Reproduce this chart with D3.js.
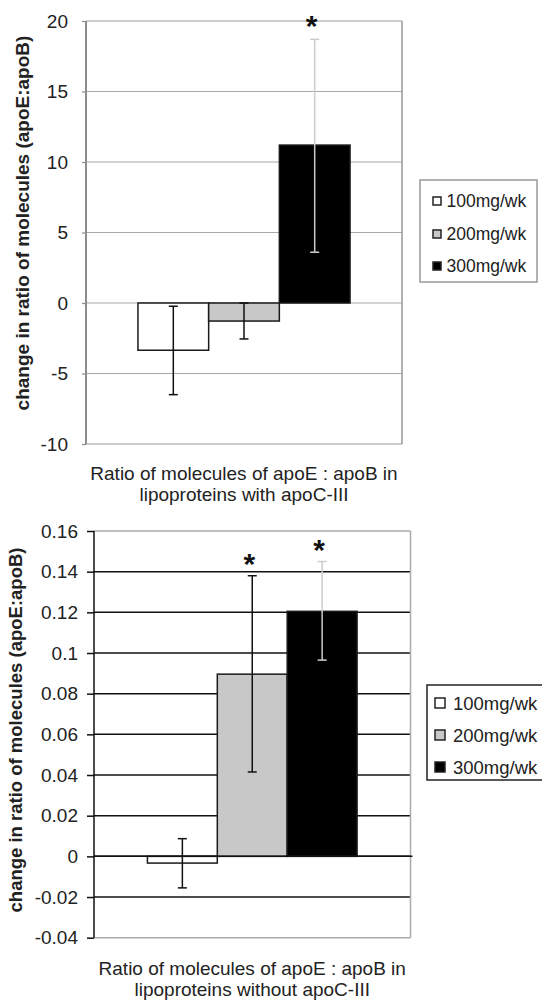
<!DOCTYPE html>
<html>
<head>
<meta charset="utf-8">
<script src="https://cdn.jsdelivr.net/npm/d3@7"></script>
<style>
  html, body { margin: 0; padding: 0; background: #fff; }
  svg { display: block; }
  text { font-family: "Liberation Sans", Arial, sans-serif; fill: #222; }
</style>
</head>
<body>
<svg id="chart" width="542" height="1000"></svg>
<script>
// ---------- data ----------
const series = ["100mg/wk", "200mg/wk", "300mg/wk"];
const seriesFill = ["#ffffff", "#c8c8c8", "#000000"];
const errColor = ["#111111", "#111111", "#cccccc"];

// Top panel: lipoproteins with apoC-III
const topCategory = ["Ratio of molecules of apoE : apoB in", "lipoproteins with apoC-III"];
const topValues = [-3.35, -1.28, 11.2];
const topErrHigh = [-0.23, 0.0, 18.7];
const topErrLow = [-6.5, -2.55, 3.6];
const topStars = [false, false, true];
const topTicks = [20, 15, 10, 5, 0, -5, -10];
const topTickLabels = ["20", "15", "10", "5", "0", "-5", "-10"];

// Bottom panel: lipoproteins without apoC-III
const botCategory = ["Ratio of molecules of apoE : apoB in", "lipoproteins without apoC-III"];
const botValues = [-0.0033, 0.0896, 0.1205];
const botErrHigh = [0.0087, 0.1380, 0.1450];
const botErrLow = [-0.0155, 0.0415, 0.0965];
const botStars = [false, true, true];
const botTicks = [0.16, 0.14, 0.12, 0.1, 0.08, 0.06, 0.04, 0.02, 0, -0.02, -0.04];
const botTickLabels = ["0.16", "0.14", "0.12", "0.1", "0.08", "0.06", "0.04", "0.02", "0", "-0.02", "-0.04"];

const yLabel = "change in ratio of molecules (apoE:apoB)";

const svg = d3.select("#chart");

function panel(cfg) {
  const g = svg.append("g");
  const y = d3.scaleLinear().domain(cfg.domain).range([cfg.bottom, cfg.top]);
  const x0 = d3.scaleBand().domain([cfg.category.join(" ")]).range([cfg.left, cfg.right])
    .paddingInner(0).paddingOuter(cfg.outerPad);
  const x1 = d3.scaleBand().domain(series).range([0, x0.bandwidth()]).padding(0);
  const gx = x0(cfg.category.join(" "));

  // gridlines
  g.selectAll("line.grid").data(cfg.ticks).join("line")
    .attr("class", "grid")
    .attr("x1", cfg.left).attr("x2", cfg.right)
    .attr("y1", d => y(d)).attr("y2", d => y(d))
    .attr("stroke", d => (d === cfg.domain[0] || d === cfg.domain[1]) ? cfg.borderColor : cfg.gridColor)
    .attr("stroke-width", cfg.gridWidth);

  // right border
  g.append("line")
    .attr("x1", cfg.right).attr("x2", cfg.right)
    .attr("y1", y(cfg.domain[0])).attr("y2", y(cfg.domain[1]))
    .attr("stroke", cfg.borderColor).attr("stroke-width", 1.5);

  // bars
  g.selectAll("rect.bar").data(cfg.values).join("rect")
    .attr("class", "bar")
    .attr("x", (d, i) => gx + x1(series[i]))
    .attr("width", x1.bandwidth())
    .attr("y", d => y(Math.max(0, d)))
    .attr("height", d => Math.abs(y(d) - y(0)))
    .attr("fill", (d, i) => seriesFill[i])
    .attr("stroke", "#1a1a1a")
    .attr("stroke-width", 1.5);

  if (cfg.zeroOnTop) {
    g.append("line")
      .attr("x1", cfg.left).attr("x2", cfg.right + 2)
      .attr("y1", y(0)).attr("y2", y(0))
      .attr("stroke", "#111").attr("stroke-width", 1.5);
  }

  // error bars
  const cx = i => gx + x1(series[i]) + x1.bandwidth() / 2;
  const eg = g.selectAll("g.err").data(cfg.values).join("g").attr("class", "err");
  eg.append("line")
    .attr("x1", (d, i) => cx(i)).attr("x2", (d, i) => cx(i))
    .attr("y1", (d, i) => y(cfg.errHigh[i])).attr("y2", (d, i) => y(cfg.errLow[i]))
    .attr("stroke", (d, i) => errColor[i]).attr("stroke-width", 1.5);
  ["errHigh", "errLow"].forEach(k => {
    eg.append("line")
      .attr("x1", (d, i) => cx(i) - 4.5).attr("x2", (d, i) => cx(i) + 4.5)
      .attr("y1", (d, i) => y(cfg[k][i])).attr("y2", (d, i) => y(cfg[k][i]))
      .attr("stroke", (d, i) => errColor[i]).attr("stroke-width", 1.5);
  });

  // significance stars
  const starData = cfg.stars.map((s, i) => ({ s, i })).filter(o => o.s);
  g.selectAll("text.star").data(starData).join("text")
    .attr("class", "star")
    .attr("x", o => cx(o.i) - 3)
    .attr("y", o => y(cfg.errHigh[o.i]) + cfg.starDy)
    .attr("text-anchor", "middle")
    .attr("font-size", 30).attr("font-weight", "bold")
    .style("fill", "#111")
    .text("*");

  // y axis
  const axis = d3.axisLeft(y).tickValues(cfg.ticks)
    .tickFormat((d, i) => cfg.tickLabels[i])
    .tickSize(cfg.tickSize).tickPadding(cfg.tickPadding);
  const ga = g.append("g").attr("transform", `translate(${cfg.left},0)`).call(axis);
  ga.select(".domain").attr("stroke", cfg.axisColor).attr("stroke-width", cfg.axisWidth)
    .attr("d", `M0,${y(cfg.domain[0])}V${y(cfg.domain[1])}`);
  ga.selectAll(".tick line").attr("stroke", cfg.axisColor).attr("stroke-width", cfg.gridWidth);
  ga.selectAll(".tick text").attr("font-size", 19)
    .style("font-family", '"Liberation Sans", Arial, sans-serif').style("fill", "#222");

  // y label
  g.append("text")
    .attr("transform", `translate(${cfg.yLabelX},${cfg.yLabelY}) rotate(-90)`)
    .attr("text-anchor", "middle")
    .attr("font-size", cfg.yLabelSize).attr("font-weight", "bold")
    .text(yLabel);

  // x category label
  g.append("text")
    .attr("text-anchor", "middle")
    .attr("font-size", 19)
    .selectAll("tspan").data(cfg.category).join("tspan")
    .attr("x", gx + x0.bandwidth() / 2)
    .attr("y", (d, i) => cfg.catY + i * 20.5)
    .text(d => d);

  // legend
  const L = cfg.legend;
  g.append("rect")
    .attr("x", L.x).attr("y", L.y).attr("width", L.w).attr("height", L.h)
    .attr("fill", "#fff").attr("stroke", L.stroke).attr("stroke-width", 1.5);
  const li = g.selectAll("g.leg").data(series).join("g").attr("class", "leg")
    .attr("transform", (d, i) => `translate(${L.sx},${L.ys[i]})`);
  li.append("rect")
    .attr("x", 0).attr("y", -L.s / 2).attr("width", L.s).attr("height", L.s)
    .attr("fill", (d, i) => seriesFill[i]).attr("stroke", "#222").attr("stroke-width", 1.5);
  li.append("text")
    .attr("x", L.tx).attr("y", 0).attr("dy", "0.36em")
    .attr("font-size", L.fs)
    .text(d => d);
}

panel({
  domain: [-10, 20], top: 21, bottom: 444, left: 86, right: 402, outerPad: 0.245,
  category: topCategory, values: topValues, errHigh: topErrHigh, errLow: topErrLow,
  stars: topStars, ticks: topTicks, tickLabels: topTickLabels,
  gridColor: "#a8a8a8", borderColor: "#999", gridWidth: 1.2,
  axisColor: "#8c8c8c", axisWidth: 2, tickSize: 4, tickPadding: 14,
  starDy: -3, yLabelX: 29, yLabelY: 223, yLabelSize: 19,
  catY: 480,
  legend: { x: 420, y: 180, w: 117, h: 102, stroke: "#999", sx: 433, s: 8, tx: 13.5, fs: 17.5, ys: [201, 234, 266] }
});

panel({
  domain: [-0.04, 0.16], top: 531, bottom: 937.7, left: 94, right: 410.5, outerPad: 0.2548,
  category: botCategory, values: botValues, errHigh: botErrHigh, errLow: botErrLow,
  stars: botStars, ticks: botTicks, tickLabels: botTickLabels,
  gridColor: "#111", borderColor: "#aaa", gridWidth: 1.5,
  axisColor: "#111", axisWidth: 1.5, tickSize: 7, tickPadding: 9,
  starDy: -2, zeroOnTop: true, yLabelX: 22, yLabelY: 730, yLabelSize: 18.5,
  catY: 975,
  legend: { x: 427, y: 685, w: 130, h: 95, stroke: "#222", sx: 435, s: 10, tx: 18, fs: 18.5, ys: [703, 735, 767] }
});
</script>
</body>
</html>
